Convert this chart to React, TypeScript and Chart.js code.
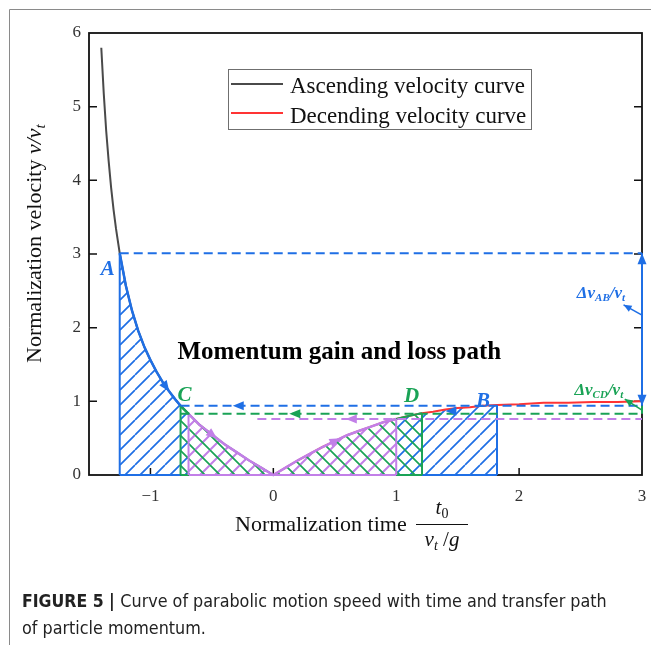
import React, { useEffect, useRef } from "react";
import { Chart, registerables } from "chart.js";

Chart.register(...registerables);

// Ascending branch (t0 < 0): normalized time and normalized velocity v/vt
const ascendingTime = [-1.4, -1.38, -1.36, -1.34, -1.32, -1.3, -1.28, -1.25, -1.2, -1.15, -1.1, -1.05, -1.0, -0.95, -0.9, -0.85, -0.8, -0.755, -0.69, -0.6, -0.5, -0.4, -0.3, -0.2, -0.1, 0];
const ascendingVelocity = [5.8, 5.18, 4.67, 4.26, 3.9, 3.6, 3.34, 3.01, 2.57, 2.23, 1.96, 1.74, 1.56, 1.4, 1.26, 1.14, 1.03, 0.94, 0.83, 0.68, 0.55, 0.42, 0.31, 0.2, 0.1, 0];

// Descending branch (t0 > 0)
const descendingTime = [0, 0.1, 0.2, 0.3, 0.4, 0.5, 0.6, 0.7, 0.8, 0.9, 1.0, 1.1, 1.21, 1.3, 1.4, 1.5, 1.6, 1.7, 1.82, 2.0, 2.2, 2.4, 2.6, 2.8, 3.0];
const descendingVelocity = [0, 0.1, 0.2, 0.29, 0.38, 0.46, 0.54, 0.6, 0.66, 0.72, 0.76, 0.8, 0.84, 0.86, 0.89, 0.91, 0.92, 0.94, 0.95, 0.96, 0.98, 0.98, 0.99, 0.99, 1.0];

const xTicks = [-1, 0, 1, 2, 3];
const yTicks = [0, 1, 2, 3, 4, 5, 6];

const seriesNames = ["Ascending velocity curve", "Decending velocity curve"];

// Momentum path markers on the time axis
const timeA = -1.25;
const timeC = -0.755;
const timeP1 = -0.69;
const timeP2 = 1.0;
const timeD = 1.21;
const timeB = 1.82;
const timeEnd = 3.0;
const purpleDashStart = -0.13;

// Arrow positions along the path (time, velocity)
const dashArrowBlue = [-0.33, 0.94];
const dashArrowGreen = [0.13, 0.83];
const dashArrowPurple = [0.59, 0.76];
const arrowNearB = [1.4, 0.87];
const curveArrowBlue = -0.87;
const curveArrowPurple1 = -0.49;
const curveArrowPurple2 = 0.51;

const BLUE = "#1f6fe5";
const GREEN = "#1aa356";
const PURPLE = "#c27fe8";
const RED = "#ff3434";
const DARK = "#4a4a4a";
const SERIF = "'Liberation Serif', 'Times New Roman', serif";

const curveTime = [...ascendingTime, ...descendingTime.slice(1)];
const curveVelocity = [...ascendingVelocity, ...descendingVelocity.slice(1)];

const curvePoints = (lo: number, hi: number) =>
  curveTime
    .map((t, i) => ({ x: t, y: curveVelocity[i] }))
    .filter((p) => p.x >= lo - 1e-9 && p.x <= hi + 1e-9);

const vAt = (t: number) => curveVelocity[curveTime.indexOf(t)];

const interp = (t: number) => {
  for (let i = 0; i < curveTime.length - 1; i++) {
    const a = curveTime[i], b = curveTime[i + 1];
    if (t >= a && t <= b) {
      const f = (t - a) / (b - a);
      return curveVelocity[i] + f * (curveVelocity[i + 1] - curveVelocity[i]);
    }
  }
  return 0;
};

const fmtTick = (v: number) => (v < 0 ? "\u2212" + Math.abs(v) : String(v));

function makeHatch(color: string, dir: "/" | "\\", size: number, width: number, bg?: string) {
  const c = document.createElement("canvas");
  c.width = size;
  c.height = size;
  const g = c.getContext("2d")!;
  if (bg) {
    g.fillStyle = bg;
    g.fillRect(0, 0, size, size);
  }
  g.strokeStyle = color;
  g.lineWidth = width;
  g.beginPath();
  for (let k = -1; k <= 1; k++) {
    if (dir === "/") {
      g.moveTo(k * size, size);
      g.lineTo(k * size + size, 0);
    } else {
      g.moveTo(k * size, 0);
      g.lineTo(k * size + size, size);
    }
  }
  g.stroke();
  return g.createPattern(c, "repeat")!;
}

const lineDs = (data: any[], color: string, width: number, order: number, extra: any = {}) => ({
  data,
  borderColor: color,
  borderWidth: width,
  pointRadius: 0,
  fill: false,
  tension: 0,
  order,
  clip: false,
  ...extra,
});

function arrowHead(ctx: CanvasRenderingContext2D, x: number, y: number, angle: number, color: string, len = 11, half = 4.5) {
  ctx.save();
  ctx.translate(x, y);
  ctx.rotate(angle);
  ctx.fillStyle = color;
  ctx.beginPath();
  ctx.moveTo(0, 0);
  ctx.lineTo(-len, -half);
  ctx.lineTo(-len, half);
  ctx.closePath();
  ctx.fill();
  ctx.restore();
}

// Draws text runs: [text, font, dy]
function runs(ctx: CanvasRenderingContext2D, x: number, y: number, parts: [string, string, number][], color: string) {
  ctx.fillStyle = color;
  let cx = x;
  for (const [t, f, dy] of parts) {
    ctx.font = f;
    ctx.fillText(t, cx, y + dy);
    cx += ctx.measureText(t).width;
  }
  return cx - x;
}
function runsWidth(ctx: CanvasRenderingContext2D, parts: [string, string, number][]) {
  let w = 0;
  for (const [t, f] of parts) {
    ctx.font = f;
    w += ctx.measureText(t).width;
  }
  return w;
}

const decorPlugin = {
  id: "decor",
  beforeDraw(chart: any) {
    const ctx = chart.ctx as CanvasRenderingContext2D;
    ctx.save();
    ctx.fillStyle = "#fff";
    ctx.fillRect(0, 0, chart.width, chart.height);
    // page frame
    ctx.strokeStyle = "#8a8a8a";
    ctx.lineWidth = 1;
    ctx.beginPath();
    ctx.moveTo(9.5, chart.height);
    ctx.lineTo(9.5, 9.5);
    ctx.lineTo(chart.width, 9.5);
    ctx.stroke();
    ctx.restore();
  },
  beforeDatasetsDraw(chart: any) {
    const ctx = chart.ctx as CanvasRenderingContext2D;
    const { left, right, top, bottom } = chart.chartArea;
    const xs = chart.scales.x, ys = chart.scales.y;
    ctx.save();
    ctx.strokeStyle = "#111";
    ctx.lineWidth = 1.8;
    ctx.strokeRect(left, top, right - left, bottom - top);
    ctx.lineWidth = 1.5;
    ctx.beginPath();
    for (const v of xTicks) {
      const px = xs.getPixelForValue(v);
      if (px <= left + 2 || px >= right - 2) continue;
      ctx.moveTo(px, bottom);
      ctx.lineTo(px, bottom - 7);
    }
    for (const v of yTicks) {
      const py = ys.getPixelForValue(v);
      if (py <= top + 2 || py >= bottom - 2) continue;
      ctx.moveTo(left, py);
      ctx.lineTo(left + 8, py);
      ctx.moveTo(right, py);
      ctx.lineTo(right - 8, py);
    }
    ctx.stroke();
    ctx.restore();
  },
  afterDatasetsDraw(chart: any) {
    const ctx = chart.ctx as CanvasRenderingContext2D;
    const xs = chart.scales.x, ys = chart.scales.y;
    const X = (t: number) => xs.getPixelForValue(t);
    const Y = (v: number) => ys.getPixelForValue(v);
    ctx.save();

    // arrows on the dashed return lines (pointing left)
    arrowHead(ctx, X(dashArrowBlue[0]), Y(dashArrowBlue[1]), Math.PI, BLUE);
    arrowHead(ctx, X(dashArrowGreen[0]), Y(dashArrowGreen[1]), Math.PI, GREEN);
    arrowHead(ctx, X(dashArrowPurple[0]), Y(dashArrowPurple[1]), Math.PI, PURPLE);
    arrowHead(ctx, X(arrowNearB[0]), Y(arrowNearB[1]), Math.PI, BLUE);

    // arrows along the velocity curve
    const curveArrow = (t: number, color: string) => {
      const x1 = X(t - 0.02), y1 = Y(interp(t - 0.02));
      const x2 = X(t + 0.02), y2 = Y(interp(t + 0.02));
      const ang = Math.atan2(y2 - y1, x2 - x1);
      const cx = X(t), cy = Y(interp(t));
      arrowHead(ctx, cx + 5 * Math.cos(ang), cy + 5 * Math.sin(ang), ang, color, 11, 4.5);
    };
    curveArrow(curveArrowBlue, BLUE);
    curveArrow(curveArrowPurple1, PURPLE);
    curveArrow(curveArrowPurple2, PURPLE);

    // velocity-difference double arrow at the right edge
    const xr = X(timeEnd);
    arrowHead(ctx, xr, Y(vAt(timeA)), -Math.PI / 2, BLUE, 11, 4.5);
    arrowHead(ctx, xr, Y(vAt(timeC)), Math.PI / 2, BLUE, 11, 4.5);

    // pointers to the Δv labels
    const pointer = (v0: number, t1: number, v1: number, color: string) => {
      const x0 = X(timeEnd), y0 = Y(v0), x1 = X(t1), y1 = Y(v1);
      ctx.strokeStyle = color;
      ctx.lineWidth = 1.6;
      ctx.beginPath();
      ctx.moveTo(x0, y0);
      ctx.lineTo(x1, y1);
      ctx.stroke();
      arrowHead(ctx, x1, y1, Math.atan2(y1 - y0, x1 - x0), color, 8, 3.5);
    };
    pointer(2.17, 2.85, 2.31, BLUE);
    pointer(0.88, 2.86, 1.03, GREEN);

    ctx.textBaseline = "alphabetic";
    ctx.textAlign = "left";
    const bi = (s: number) => `italic bold ${s}px ${SERIF}`;
    runs(ctx, X(2.47), Y(2.4), [["\u0394v", bi(17), 0], ["AB", bi(11), 3], ["/v", bi(17), 0], ["t", bi(11), 3]], BLUE);
    runs(ctx, X(2.45), Y(1.09), [["\u0394v", bi(17), 0], ["CD", bi(11), 3], ["/v", bi(17), 0], ["t", bi(11), 3]], GREEN);

    // point labels
    ctx.font = bi(21);
    ctx.fillStyle = BLUE;
    ctx.fillText("A", X(timeA) - 19, Y(vAt(timeA)) + 22);
    ctx.fillText("B", X(timeB) - 21, Y(vAt(timeB)) + 2);
    ctx.fillStyle = GREEN;
    ctx.fillText("C", X(timeC) - 3, Y(vAt(timeC)) - 5);
    ctx.fillText("D", X(timeD) - 18, Y(vAt(timeD)) - 11);

    // heading
    ctx.fillStyle = "#000";
    ctx.font = `bold 25px ${SERIF}`;
    ctx.fillText("Momentum gain and loss path", X(-0.78), Y(1.57));

    // legend
    ctx.strokeStyle = "#6f6f6f";
    ctx.lineWidth = 1;
    ctx.strokeRect(228.5, 69.5, 303, 60);
    ctx.lineWidth = 2;
    ctx.strokeStyle = DARK;
    ctx.beginPath();
    ctx.moveTo(231, 84);
    ctx.lineTo(283, 84);
    ctx.stroke();
    ctx.strokeStyle = RED;
    ctx.beginPath();
    ctx.moveTo(231, 113);
    ctx.lineTo(283, 113);
    ctx.stroke();
    ctx.fillStyle = "#111";
    ctx.font = `23px ${SERIF}`;
    ctx.fillText(seriesNames[0], 290, 93);
    ctx.fillText(seriesNames[1], 290, 123);

    // y-axis title
    ctx.save();
    ctx.translate(41, 363);
    ctx.rotate(-Math.PI / 2);
    runs(ctx, 0, 0, [["Normalization velocity ", `22px ${SERIF}`, 0], ["v/v", `italic 22px ${SERIF}`, 0], ["t", `italic 15px ${SERIF}`, 4]], "#111");
    ctx.restore();

    // x-axis title with fraction
    ctx.fillStyle = "#111";
    ctx.font = `22px ${SERIF}`;
    ctx.fillText("Normalization time", 235, 531);
    const fx0 = 416, fx1 = 468, fcx = (fx0 + fx1) / 2;
    ctx.strokeStyle = "#111";
    ctx.lineWidth = 1.2;
    ctx.beginPath();
    ctx.moveTo(fx0, 524.5);
    ctx.lineTo(fx1, 524.5);
    ctx.stroke();
    const num: [string, string, number][] = [["t", `italic 21px ${SERIF}`, 0], ["0", `14px ${SERIF}`, 4]];
    runs(ctx, fcx - runsWidth(ctx, num) / 2, 514, num, "#111");
    const den: [string, string, number][] = [["v", `italic 21px ${SERIF}`, 0], ["t", `italic 14px ${SERIF}`, 4], [" /", `21px ${SERIF}`, 0], ["g", `italic 21px ${SERIF}`, 0]];
    runs(ctx, fcx - runsWidth(ctx, den) / 2, 546, den, "#111");

    // caption
    const cap = "'DejaVu Sans Condensed', 'Liberation Sans', sans-serif";
    runs(ctx, 22, 607, [["FIGURE 5 | ", `bold 17.5px ${cap}`, 0], ["Curve of parabolic motion speed with time and transfer path", `17.8px ${cap}`, 0]], "#222");
    runs(ctx, 22, 634, [["of particle momentum.", `17.8px ${cap}`, 0]], "#222");

    ctx.restore();
  },
};

export default function App() {
  const ref = useRef<HTMLCanvasElement | null>(null);

  useEffect(() => {
    if (!ref.current) return;
    const bluePat = makeHatch(BLUE, "/", 15, 1.7);
    const purplePat = makeHatch(PURPLE, "/", 15, 2, "#ffffff");
    const greenPat = makeHatch(GREEN, "\\", 15, 1.7);

    const areaDs = (lo: number, hi: number, pat: CanvasPattern, order: number) => ({
      data: curvePoints(lo, hi),
      borderWidth: 0,
      borderColor: "rgba(0,0,0,0)",
      backgroundColor: pat,
      fill: "origin",
      pointRadius: 0,
      tension: 0,
      order,
    });
    const vertical = (t: number, color: string) =>
      lineDs([{ x: t, y: 0 }, { x: t, y: vAt(t) }], color, 2, 14);
    const base = (lo: number, hi: number, color: string) =>
      lineDs([{ x: lo, y: 0 }, { x: hi, y: 0 }], color, 2, 14);
    const dashed = (lo: number, v: number, color: string, dash: number[]) =>
      lineDs([{ x: lo, y: v }, { x: timeEnd, y: v }], color, 2, 13, { borderDash: dash });

    const chart = new Chart(ref.current, {
      type: "line",
      data: {
        datasets: [
          areaDs(timeA, timeB, bluePat, 30),
          areaDs(timeP1, timeP2, purplePat, 29),
          areaDs(timeC, timeD, greenPat, 28),
          lineDs(curvePoints(-2, 0), DARK, 2, 20),
          lineDs(curvePoints(0, timeEnd), RED, 2, 20),
          lineDs(curvePoints(timeA, timeC), BLUE, 2.5, 15),
          lineDs(curvePoints(timeC, timeP1), GREEN, 2.5, 15),
          lineDs(curvePoints(timeP1, timeP2), PURPLE, 2.5, 15),
          lineDs(curvePoints(timeP2, timeD), GREEN, 2, 16),
          vertical(timeA, BLUE),
          vertical(timeC, GREEN),
          vertical(timeP1, PURPLE),
          vertical(timeP2, PURPLE),
          vertical(timeD, GREEN),
          vertical(timeB, BLUE),
          base(timeA, timeC, BLUE),
          base(timeC, timeP1, GREEN),
          base(timeP1, timeP2, PURPLE),
          base(timeP2, timeD, GREEN),
          base(timeD, timeB, BLUE),
          dashed(timeA, vAt(timeA), BLUE, [9, 5]),
          dashed(timeC, vAt(timeC), BLUE, [9, 5]),
          dashed(timeC, vAt(timeP1), GREEN, [9, 5]),
          dashed(purpleDashStart, vAt(timeP2), PURPLE, [9, 5]),
          lineDs([{ x: timeEnd, y: vAt(timeC) }, { x: timeEnd, y: vAt(timeA) }], BLUE, 2, 12),
          lineDs([{ x: timeEnd, y: vAt(timeP1) }, { x: timeEnd, y: vAt(timeC) }], GREEN, 2, 12),
        ] as any,
      },
      options: {
        responsive: false,
        animation: false,
        events: [],
        layout: { padding: { left: 0, top: 33, right: 9, bottom: 0 } },
        plugins: { legend: { display: false }, tooltip: { enabled: false } },
        scales: {
          x: {
            type: "linear",
            min: -1.5,
            max: 3,
            grid: { display: false, drawTicks: false },
            border: { display: false },
            afterBuildTicks: (s: any) => {
              s.ticks = xTicks.map((v) => ({ value: v }));
            },
            afterFit: (s: any) => {
              s.height = 170;
              s.paddingLeft = 0;
              s.paddingRight = 0;
            },
            ticks: {
              autoSkip: false,
              maxRotation: 0,
              padding: 11,
              color: "#333",
              font: { family: "Liberation Serif", size: 17 },
              callback: (v: any) => fmtTick(Number(v)),
            },
          },
          y: {
            type: "linear",
            min: 0,
            max: 6,
            grid: { display: false, drawTicks: false },
            border: { display: false },
            afterBuildTicks: (s: any) => {
              s.ticks = yTicks.map((v) => ({ value: v }));
            },
            afterFit: (s: any) => {
              s.width = 89;
              s.paddingTop = 0;
              s.paddingBottom = 0;
            },
            ticks: {
              padding: 8,
              color: "#333",
              font: { family: "Liberation Serif", size: 17 },
              callback: (v: any) => fmtTick(Number(v)),
            },
          },
        },
      } as any,
      plugins: [decorPlugin as any],
    });
    return () => chart.destroy();
  }, []);

  return (
    <div style={{ position: "fixed", left: 0, top: 0, width: 651, height: 645, background: "#fff" }}>
      <canvas ref={ref} width={651} height={645} style={{ display: "block" }} />
    </div>
  );
}
